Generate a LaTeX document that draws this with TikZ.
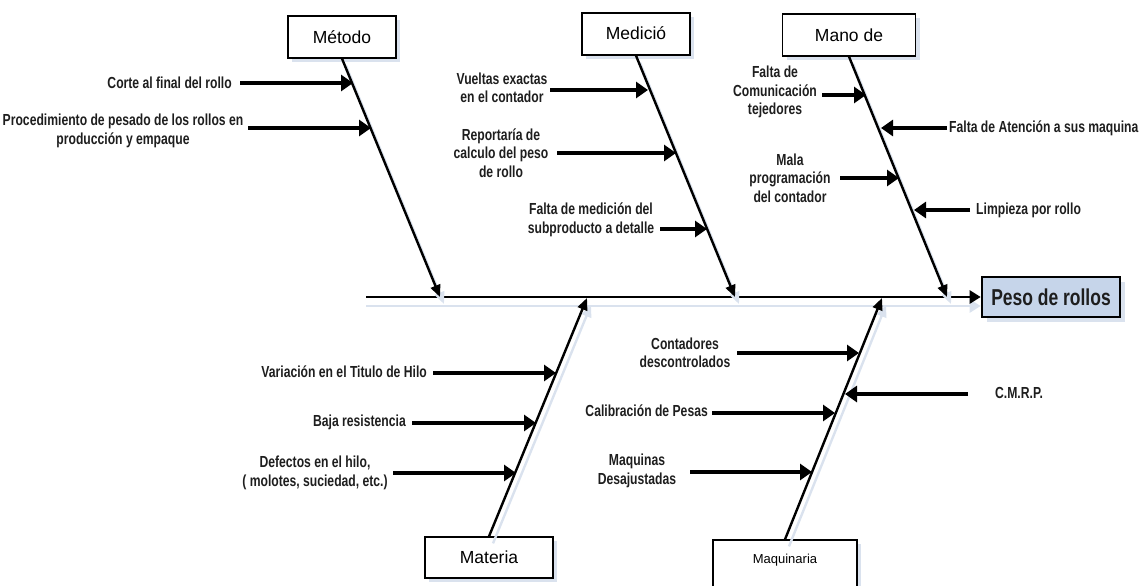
\documentclass[tikz,border=0pt]{standalone}
\usepackage{fontspec}
\setmainfont{Liberation Sans}
\newfontfamily\labfont[FakeStretch=0.76]{Liberation Sans}
\newfontfamily\boxfont{Liberation Sans}
\usetikzlibrary{arrows.meta,shadows}
\definecolor{shadowc}{RGB}{218,226,238}
\definecolor{pesofill}{RGB}{198,213,234}
\definecolor{txt}{RGB}{30,30,30}
\tikzset{
  cat/.style={draw, line width=1.3pt, fill=white, minimum width=108pt, minimum height=42pt,
    font=\boxfont\fontsize{17.5}{20}\selectfont, inner sep=0pt,
    drop shadow={shadow xshift=4pt, shadow yshift=-4pt, fill=shadowc, opacity=1}},
  cause/.style={font=\labfont\bfseries\fontsize{16}{18.5}\selectfont, text=txt, align=center, inner sep=0pt},
  causearrow/.style={line width=3.6pt, -{Triangle[length=12pt,width=16pt]}},
  bone/.style={line width=2.4pt, -{Triangle[length=12pt,width=10pt]},
    preaction={draw=shadowc, line width=2.4pt, transform canvas={shift={(4pt,-7pt)}}}},
}
\begin{document}
\begin{tikzpicture}[x=1pt,y=-1pt]
\useasboundingbox (0,0) rectangle (1141,586);

% head
\node[draw, line width=2.6pt, fill=pesofill, minimum width=138pt, minimum height=40pt,
  font=\labfont\bfseries\fontsize{23}{25}\selectfont, text=txt,
  drop shadow={shadow xshift=5pt, shadow yshift=-5pt, fill=shadowc, opacity=1}]
  (peso) at (1051,297) {Peso de rollos};
\coordinate (sp0) at (366,297);
\draw[line width=2.6pt, -{Triangle[length=11pt,width=13pt]},
  preaction={draw=shadowc, line width=2.6pt, transform canvas={shift={(0pt,-9pt)}}}]
  (sp0) -- (peso.west);

% category boxes
\node[cat] (metodo) at (342,37) {Método};
\node[cat, text depth=2pt] (medicion) at (636,34) {Medició};
\node[cat, minimum width=133pt] (mano) at (849,35) {Mano de};
\node[cat, minimum width=128pt, minimum height=41pt] (materia) at (489,557.5) {Materia};
\node[cat, minimum width=144pt, minimum height=52pt, font=\boxfont\fontsize{13}{15}\selectfont,
  text depth=14pt] (maquinaria) at (785,566) {Maquinaria};

% spine attach points
\coordinate (b1) at (440,297);
\coordinate (b2) at (735,297);
\coordinate (b3) at (947,297);
\coordinate (b4) at (587,298);
\coordinate (b5) at (882,298);

\draw[bone] (metodo.south) -- (b1);
\draw[bone] (medicion.south) -- (b2);
\draw[bone] (mano.south) -- (b3);
\draw[bone] (materia.north) -- (b4);
\draw[bone] (maquinaria.north) -- (b5);

% Metodo causes
\node[cause, anchor=east] (c1) at (232,83) {Corte al final del rollo};
\coordinate (c1s) at (240,83); \coordinate (c1e) at (353,83);
\draw[causearrow] (c1s) -- (c1e);
\node[cause] (c2) at (123,131) {Procedimiento de pesado de los rollos en\\producción y empaque};
\coordinate (c2s) at (248,128); \coordinate (c2e) at (371,128);
\draw[causearrow] (c2s) -- (c2e);

% Medicion causes
\node[cause] (c3) at (502,88) {Vueltas exactas\\en el contador};
\coordinate (c3s) at (550,90); \coordinate (c3e) at (648,90);
\draw[causearrow] (c3s) -- (c3e);
\node[cause] (c4) at (501,153) {Reportaría de\\calculo del peso\\de rollo};
\coordinate (c4s) at (557,153); \coordinate (c4e) at (676,153);
\draw[causearrow] (c4s) -- (c4e);
\node[cause] (c5) at (591,220) {Falta de medición del\\subproducto a detalle};
\coordinate (c5s) at (660,229); \coordinate (c5e) at (707,229);
\draw[causearrow] (c5s) -- (c5e);

% Mano de obra causes
\node[cause] (c6) at (775,92) {Falta de\\Comunicación\\tejedores};
\coordinate (c6s) at (822,95); \coordinate (c6e) at (866,95);
\draw[causearrow] (c6s) -- (c6e);
\node[cause, anchor=west] (c7) at (949,128) {Falta de Atención a sus maquina};
\coordinate (c7s) at (947,128); \coordinate (c7e) at (881,128);
\draw[causearrow] (c7s) -- (c7e);
\node[cause] (c8) at (790,178) {Mala\\programación\\del contador};
\coordinate (c8s) at (840,178); \coordinate (c8e) at (899,178);
\draw[causearrow] (c8s) -- (c8e);
\node[cause, anchor=west] (c9) at (976,210) {Limpieza por rollo};
\coordinate (c9s) at (970,210); \coordinate (c9e) at (914,210);
\draw[causearrow] (c9s) -- (c9e);

% Materia causes
\node[cause, anchor=east] (c10) at (427,372) {Variación en el Titulo de Hilo};
\coordinate (c10s) at (433,373); \coordinate (c10e) at (556,373);
\draw[causearrow] (c10s) -- (c10e);
\node[cause, anchor=east] (c11) at (406,422) {Baja resistencia};
\coordinate (c11s) at (412,423); \coordinate (c11e) at (536,423);
\draw[causearrow] (c11s) -- (c11e);
\node[cause] (c12) at (315,473) {Defectos en el hilo,\\( molotes, suciedad, etc.)};
\coordinate (c12s) at (393,473); \coordinate (c12e) at (516,473);
\draw[causearrow] (c12s) -- (c12e);

% Maquinaria causes
\node[cause] (c13) at (685,353) {Contadores\\descontrolados};
\coordinate (c13s) at (737,353); \coordinate (c13e) at (859,353);
\draw[causearrow] (c13s) -- (c13e);
\node[cause, anchor=west] (c14) at (995,393) {C.M.R.P.};
\coordinate (c14s) at (968,394); \coordinate (c14e) at (845,394);
\draw[causearrow] (c14s) -- (c14e);
\node[cause, anchor=east] (c15) at (708,411) {Calibración de Pesas};
\coordinate (c15s) at (712,413); \coordinate (c15e) at (835,413);
\draw[causearrow] (c15s) -- (c15e);
\node[cause] (c16) at (637,471) {Maquinas\\Desajustadas};
\coordinate (c16s) at (690,472); \coordinate (c16e) at (812,472);
\draw[causearrow] (c16s) -- (c16e);
\end{tikzpicture}
\end{document}
